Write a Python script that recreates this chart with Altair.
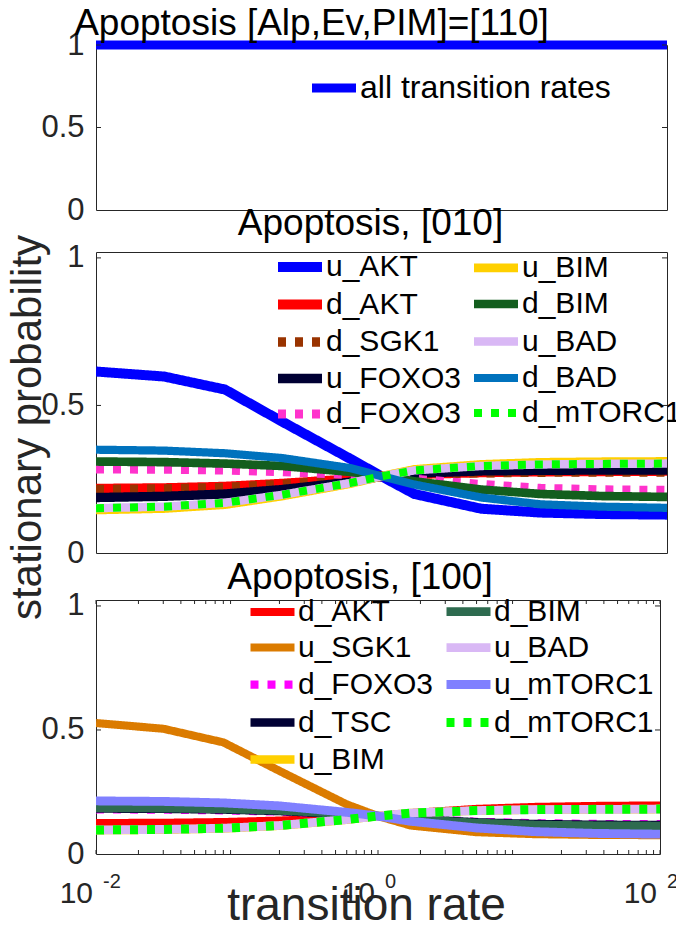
import altair as alt
import pandas as pd

FONT = "Liberation Sans"
INK = "#262626"

# shared x grid (transition rate)
X = [0.01, 0.03, 0.08, 0.2, 0.6, 1.0, 1.7, 5.0, 13.0, 35.0, 100.0]

# ---------------- top panel ----------------
TOP_NAMES = ["all transition rates"]
TOP_COLORS = ["#0000FF"]
TOP_DOTTED = [False]
TOP_WIDTHS = [9]
TOP_VALUES = {
    "all transition rates": [1.0, 1.0, 1.0, 1.0, 1.0, 1.0, 1.0, 1.0, 1.0, 1.0, 1.0],
}

# ---------------- middle panel [010] ----------------
MID_NAMES = ["u_AKT", "d_AKT", "d_SGK1", "u_FOXO3", "d_FOXO3",
             "u_BIM", "d_BIM", "u_BAD", "d_BAD", "d_mTORC1"]
MID_COLORS = ["#0000FF", "#FF0000", "#993300", "#000033", "#FF33CC",
              "#FFD000", "#135E1E", "#D9B8F5", "#0072BD", "#00FF00"]
MID_DOTTED = [False, False, True, False, True, False, False, False, False, True]
MID_WIDTHS = [10, 8, 8, 8, 8, 10, 9, 8, 9, 8]
MID_VALUES = {
    "u_AKT":    [0.615, 0.598, 0.554, 0.446, 0.320, 0.260, 0.200, 0.150, 0.137, 0.132, 0.130],
    "d_AKT":    [0.218, 0.220, 0.225, 0.235, 0.250, 0.260, 0.267, 0.273, 0.276, 0.277, 0.278],
    "d_SGK1":   [0.215, 0.217, 0.222, 0.232, 0.249, 0.260, 0.268, 0.272, 0.274, 0.275, 0.275],
    "u_FOXO3":  [0.188, 0.192, 0.200, 0.215, 0.240, 0.260, 0.270, 0.278, 0.280, 0.281, 0.281],
    "d_FOXO3":  [0.285, 0.284, 0.281, 0.276, 0.266, 0.260, 0.250, 0.232, 0.219, 0.214, 0.212],
    "u_BIM":    [0.146, 0.151, 0.164, 0.193, 0.235, 0.260, 0.283, 0.300, 0.307, 0.309, 0.310],
    "d_BIM":    [0.310, 0.308, 0.303, 0.295, 0.275, 0.260, 0.243, 0.215, 0.200, 0.193, 0.190],
    "u_BAD":    [0.152, 0.157, 0.170, 0.197, 0.237, 0.260, 0.280, 0.295, 0.300, 0.302, 0.303],
    "d_BAD":    [0.350, 0.347, 0.338, 0.322, 0.288, 0.260, 0.232, 0.188, 0.165, 0.157, 0.153],
    "d_mTORC1": [0.152, 0.157, 0.170, 0.197, 0.237, 0.260, 0.280, 0.295, 0.300, 0.302, 0.303],
}

# ---------------- bottom panel [100] ----------------
BOT_NAMES = ["d_AKT", "u_SGK1", "d_FOXO3", "d_TSC", "u_BIM",
             "d_BIM", "u_BAD", "u_mTORC1", "d_mTORC1"]
BOT_COLORS = ["#FF0000", "#DB7B00", "#FF00FF", "#000033", "#FFD000",
              "#2E6B4F", "#D9B8F5", "#8080FF", "#00FF00"]
BOT_DOTTED = [False, False, True, False, False, False, False, False, True]
BOT_WIDTHS = [8, 9, 8, 8, 9, 9, 9, 11, 8]
BOT_VALUES = {
    "d_AKT":    [0.125, 0.126, 0.129, 0.135, 0.147, 0.153, 0.165, 0.182, 0.190, 0.194, 0.196],
    "u_SGK1":   [0.528, 0.505, 0.450, 0.335, 0.200, 0.153, 0.115, 0.088, 0.080, 0.077, 0.076],
    "d_FOXO3":  [0.180, 0.179, 0.176, 0.171, 0.160, 0.153, 0.143, 0.130, 0.124, 0.121, 0.120],
    "d_TSC":    [0.183, 0.182, 0.179, 0.173, 0.160, 0.153, 0.142, 0.128, 0.121, 0.118, 0.117],
    "u_BIM":    [0.096, 0.098, 0.103, 0.114, 0.138, 0.153, 0.165, 0.175, 0.179, 0.180, 0.181],
    "d_BIM":    [0.186, 0.185, 0.182, 0.176, 0.162, 0.153, 0.140, 0.125, 0.117, 0.114, 0.113],
    "u_BAD":    [0.097, 0.099, 0.104, 0.115, 0.139, 0.153, 0.165, 0.175, 0.179, 0.180, 0.181],
    "u_mTORC1": [0.214, 0.212, 0.206, 0.194, 0.168, 0.153, 0.132, 0.105, 0.090, 0.083, 0.080],
    "d_mTORC1": [0.097, 0.099, 0.104, 0.115, 0.139, 0.153, 0.165, 0.175, 0.179, 0.180, 0.181],
}

Y_TICKS = [0, 0.5, 1]
X_MAJOR = [0.01, 1, 100]
X_EXP = ["-2", "0", "2"]
X_MINOR = [m * 10.0 ** e for e in range(-2, 2) for m in range(2, 10)]

DOT = [8, 9]
SOLID = [1, 0]
LEG_SYMBOL = "M-2,0H2"   # horizontal stroke, twice as long as the symbol box


def panel(names, values, colors, dotted, widths, W, H, ymax, title, title_dx,
          title_off, leg_x, leg_y, leg_font, col_pad, row_pad,
          y_title=None, bottom=False):
    rows = []
    for n in names:
        for xv, vv in zip(X, values[n]):
            rows.append({"x": xv, "v": vv, "s": n})
    df = pd.DataFrame(rows)

    ncol = 2 if len(names) > 1 else 1
    single = len(names) == 1

    xs = alt.Scale(type="log", domain=[0.01, 100], nice=False)
    ys = alt.Scale(domain=[0, ymax], nice=False, zero=False)

    legend = alt.Legend(
        orient="none", legendX=leg_x, legendY=leg_y, columns=ncol,
        symbolType=LEG_SYMBOL, symbolSize=484, symbolStrokeWidth=9,
        labelFontSize=leg_font, labelFont=FONT, labelColor="black",
        labelOffset=10, rowPadding=row_pad, columnPadding=col_pad, padding=0,
        gridAlign="each", title=None, labelLimit=400,
    )

    yaxis_kw = dict(values=Y_TICKS, format="~g", labelFontSize=31, labelFont=FONT,
                    labelColor=INK, labelPadding=12, ticks=False, domain=False,
                    grid=False)
    if y_title:
        yaxis = alt.Axis(title=y_title, titleFontSize=42, titleFont=FONT,
                         titleFontWeight="normal", titleColor=INK, titleX=-56,
                         titleY=175, titleAlign="center", titleBaseline="alphabetic",
                         titleAngle=270, **yaxis_kw)
    else:
        yaxis = alt.Axis(title=None, **yaxis_kw)

    if bottom:
        xaxis = alt.Axis(labels=False, ticks=False, domain=False, grid=False,
                         title="transition rate", titleFontSize=46, titleFont=FONT,
                         titleFontWeight="normal", titleColor=INK, titleX=270,
                         titleY=65, titleAlign="center", titleBaseline="alphabetic")
    else:
        xaxis = None

    enc = dict(
        x=alt.X("x:Q", scale=xs, axis=xaxis),
        y=alt.Y("v:Q", scale=ys, axis=yaxis),
        color=alt.Color("s:N", scale=alt.Scale(domain=names, range=colors),
                        legend=legend),
    )
    if single:
        lines = alt.Chart(df).mark_line(strokeCap="butt", clip=False,
                                        strokeWidth=widths[0]).encode(**enc)
    else:
        lines = alt.Chart(df).mark_line(strokeCap="butt", clip=True).encode(
            strokeDash=alt.StrokeDash("s:N", scale=alt.Scale(
                domain=names, range=[DOT if d else SOLID for d in dotted]),
                legend=legend),
            strokeWidth=alt.StrokeWidth("s:N", scale=alt.Scale(
                domain=names, range=widths), legend=None),
            **enc)

    ytk = pd.DataFrame({"t": Y_TICKS[1:]})
    yl = alt.Chart(ytk).mark_rule(color=INK, strokeWidth=1).encode(
        y=alt.Y("t:Q", scale=ys, axis=yaxis), x=alt.value(0), x2=alt.value(5))
    yr = alt.Chart(ytk).mark_rule(color=INK, strokeWidth=1).encode(
        y=alt.Y("t:Q", scale=ys, axis=yaxis), x=alt.value(W - 5), x2=alt.value(W))
    layers = [lines, yl, yr]

    if bottom:
        xt = pd.DataFrame({"t": X_MAJOR + X_MINOR})
        for y0, sgn in ((H, -1), (0, 1)):
            layers.append(alt.Chart(xt).mark_rule(color=INK, strokeWidth=1).encode(
                x=alt.X("t:Q", scale=xs, axis=xaxis), y=alt.value(y0),
                y2=alt.value(y0 + sgn * 4)))
        lab = pd.DataFrame({"t": X_MAJOR, "base": ["10"] * 3, "exp": X_EXP})
        layers.append(alt.Chart(lab).mark_text(
            align="right", baseline="alphabetic", dx=-3, fontSize=30, font=FONT,
            color=INK).encode(x=alt.X("t:Q", scale=xs, axis=xaxis),
                              y=alt.value(H + 49), text="base:N"))
        layers.append(alt.Chart(lab).mark_text(
            align="left", baseline="alphabetic", dx=7, fontSize=20, font=FONT,
            color=INK).encode(x=alt.X("t:Q", scale=xs, axis=xaxis),
                              y=alt.value(H + 34), text="exp:N"))

    return alt.layer(*layers).properties(
        width=W, height=H,
        title=alt.TitleParams(title, fontSize=37, font=FONT, fontWeight="normal",
                              color="black", anchor="middle", dx=title_dx,
                              offset=title_off),
    )


top = panel(TOP_NAMES, TOP_VALUES, TOP_COLORS, TOP_DOTTED, TOP_WIDTHS,
            571, 165, 1.0, "Apoptosis [Alp,Ev,PIM]=[110]", -70, -16,
            222, 27, 32, 10, 6)
mid = panel(MID_NAMES, MID_VALUES, MID_COLORS, MID_DOTTED, MID_WIDTHS,
            571, 301, 1.02, "Apoptosis, [010]", -11, -9,
            188, -1, 30, -6, -2.5, y_title="stationary probability")
bot = panel(BOT_NAMES, BOT_VALUES, BOT_COLORS, BOT_DOTTED, BOT_WIDTHS,
            564, 254, 1.024, "Apoptosis, [100]", -18, -7,
            161, -4, 30, -6, 1, bottom=True)

res = dict(color="independent", strokeDash="independent",
           strokeWidth="independent", x="independent", y="independent")

lower = alt.vconcat(mid, bot, spacing=47, bounds="flush").resolve_scale(**res)
chart = alt.vconcat(top, lower, spacing=42, bounds="flush").resolve_scale(**res)
chart = chart.properties(
    padding={"left": -3, "top": -4, "right": -10, "bottom": -8},
    background="white",
).configure_view(stroke=INK, strokeWidth=1)

chart.save("out.html", embed_options={"renderer": "svg", "actions": False})
